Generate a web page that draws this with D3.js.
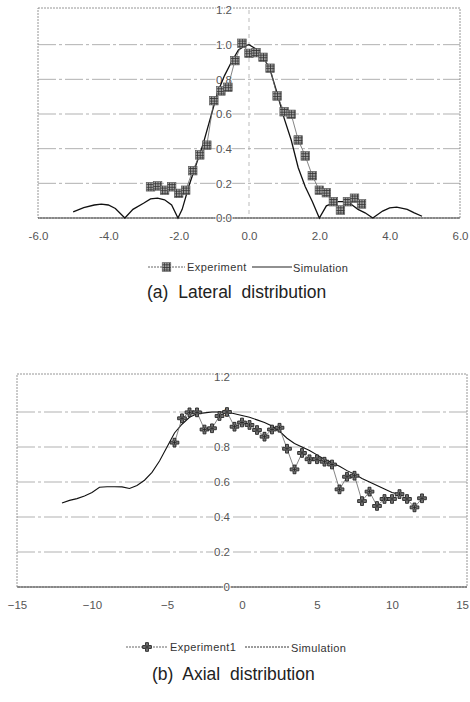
<!DOCTYPE html>
<html>
<head>
<meta charset="utf-8">
<script src="https://cdn.jsdelivr.net/npm/d3@7/dist/d3.min.js"></script>
<style>
  html, body { margin: 0; padding: 0; background: #fff; }
  svg { display: block; font-family: "Liberation Sans", Arial, sans-serif; }
</style>
</head>
<body>
<svg id="chart" width="470" height="702"></svg>
<script>
// ---- (a) Lateral distribution ----
const lateralTicksX = [-6, -4, -2, 0, 2, 4, 6];
const lateralTickLabelsX = ["-6.0", "-4.0", "-2.0", "0.0", "2.0", "4.0", "6.0"];
const lateralTicksY = [0, 0.2, 0.4, 0.6, 0.8, 1.0, 1.2];
const lateralTickLabelsY = ["0.0", "0.2", "0.4", "0.6", "0.8", "1.0", "1.2"];

const lateralExpX = [-2.8, -2.6, -2.4, -2.2, -2.0, -1.8, -1.6, -1.4, -1.2, -1.0, -0.8, -0.6, -0.4, -0.2,
  0.0, 0.2, 0.4, 0.6, 0.8, 1.0, 1.2, 1.4, 1.6, 1.8, 2.0, 2.2, 2.4, 2.6, 2.8, 3.0, 3.2];
const lateralExpY = [0.18, 0.185, 0.16, 0.18, 0.142, 0.16, 0.273, 0.364, 0.42, 0.677, 0.733, 0.754, 0.908, 1.008,
  0.95, 0.954, 0.927, 0.864, 0.704, 0.613, 0.598, 0.45, 0.358, 0.244, 0.16, 0.146, 0.094, 0.046, 0.094, 0.114, 0.081];

const lateralSimX = [-5.0, -4.7, -4.4, -4.2, -4.0, -3.8, -3.53, -3.3, -3.0, -2.8, -2.6, -2.4, -2.2, -2.02,
  -1.9, -1.7, -1.5, -1.3, -1.1, -0.9, -0.7, -0.5, -0.3, -0.1, 0.0, 0.2, 0.4, 0.6, 0.8, 1.0, 1.2, 1.4, 1.6, 1.8,
  2.0, 2.2, 2.5, 2.8, 3.1, 3.3, 3.52, 3.8, 4.0, 4.2, 4.5, 4.7, 4.92];
const lateralSimY = [0.035, 0.06, 0.075, 0.08, 0.075, 0.055, 0.0, 0.05, 0.085, 0.11, 0.115, 0.105, 0.075, 0.0,
  0.05, 0.19, 0.31, 0.43, 0.575, 0.72, 0.82, 0.9, 0.97, 0.995, 1.0, 0.975, 0.93, 0.855, 0.72, 0.575, 0.45, 0.29, 0.18, 0.095,
  0.0, 0.07, 0.095, 0.095, 0.05, 0.03, 0.0, 0.04, 0.058, 0.063, 0.05, 0.03, 0.01];

// ---- (b) Axial distribution ----
const axialTicksX = [-15, -10, -5, 0, 5, 10, 15];
const axialTickLabelsX = ["\u221215", "\u221210", "\u22125", "0", "5", "10", "15"];
const axialTicksY = [0, 0.2, 0.4, 0.6, 0.8, 1.0, 1.2];
const axialTickLabelsY = ["0", "0.2", "0.4", "0.6", "0.8", "1", "1.2"];

const axialExpX = [-4.5, -4.0, -3.5, -3.0, -2.5, -2.0, -1.5, -1.0, -0.5, 0.0, 0.5, 1.0, 1.5, 2.0, 2.5, 3.0, 3.5,
  4.0, 4.5, 5.0, 5.5, 6.0, 6.5, 7.0, 7.5, 8.0, 8.5, 9.0, 9.5, 10.0, 10.5, 11.0, 11.5, 12.0];
const axialExpY = [0.825, 0.964, 0.998, 0.998, 0.90, 0.907, 0.977, 1.0, 0.916, 0.94, 0.926, 0.897, 0.859, 0.90, 0.91,
  0.79, 0.672, 0.766, 0.73, 0.73, 0.716, 0.70, 0.558, 0.63, 0.636, 0.491, 0.545, 0.463, 0.503, 0.503, 0.531, 0.503, 0.455, 0.507];

const axialSimX = [-12, -11.5, -11, -10.5, -10, -9.5, -9, -8.5, -8, -7.5, -7, -6.5, -6, -5.5, -5, -4.5, -4, -3.5,
  -3, -2.5, -2, -1.5, -1, -0.5, 0, 0.5, 1, 1.5, 2, 2.5, 3, 3.5, 4, 4.5, 5, 5.5, 6, 6.5, 7, 7.5, 8, 8.5, 9, 9.5, 10, 10.5];
const axialSimY = [0.48, 0.495, 0.505, 0.52, 0.54, 0.57, 0.573, 0.573, 0.572, 0.563, 0.58, 0.61, 0.655, 0.72, 0.8, 0.88,
  0.93, 0.97, 0.99, 0.995, 1.0, 1.0, 1.0, 0.99, 0.98, 0.97, 0.955, 0.94, 0.92, 0.89, 0.85, 0.82, 0.80, 0.78, 0.755, 0.73,
  0.71, 0.69, 0.665, 0.645, 0.62, 0.6, 0.58, 0.56, 0.54, 0.53];

const svg = d3.select("#chart");
const defs = svg.append("defs");

// cross-hatched fill for the square markers
const pat = defs.append("pattern").attr("id", "hatch")
  .attr("patternUnits", "userSpaceOnUse").attr("width", 2.6).attr("height", 2.6);
pat.append("rect").attr("width", 2.6).attr("height", 2.6).attr("fill", "#a0a0a0");
pat.append("path").attr("d", "M0,0.4H2.6M0.4,0V2.6").attr("stroke", "#333").attr("stroke-width", 0.8);

function panel(cfg) {
  const x = d3.scaleLinear().domain(cfg.xDomain).range(cfg.xRange);
  const y = d3.scaleLinear().domain([0, 1.2]).range(cfg.yRange);
  const g = svg.append("g");

  // gridlines
  g.selectAll("line.grid").data(cfg.ticksY.filter(v => v > 0 && v < 1.2)).join("line")
    .attr("x1", x.range()[0]).attr("x2", x.range()[1])
    .attr("y1", d => y(d)).attr("y2", d => y(d))
    .attr("stroke", "#a8a8a8").attr("stroke-width", 0.9)
    .attr("stroke-dasharray", "18,3,3,3");

  // plot frame
  g.append("rect")
    .attr("x", x.range()[0]).attr("y", y(1.2) - cfg.topPad)
    .attr("width", x.range()[1] - x.range()[0]).attr("height", y(0) - y(1.2) + cfg.topPad)
    .attr("fill", "none").attr("stroke", "#8a8a8a").attr("stroke-width", 0.9)
    .attr("stroke-dasharray", "2,1");
  g.append("line")
    .attr("x1", x.range()[0]).attr("x2", x.range()[1])
    .attr("y1", y(0)).attr("y2", y(0))
    .attr("stroke", "#444").attr("stroke-width", 1);

  if (cfg.showYAxisLine) {
    g.append("line")
      .attr("x1", x(0)).attr("x2", x(0)).attr("y1", y(1.2)).attr("y2", y(0))
      .attr("stroke", "#aaa").attr("stroke-width", 0.8).attr("stroke-dasharray", "4,4");
  }

  // y tick labels, placed next to the zero position
  const yAxis = d3.axisLeft(y).tickValues(cfg.ticksY)
    .tickFormat((d, i) => cfg.labelsY[i]).tickSize(0).tickPadding(cfg.yLabelPad);
  const ya = g.append("g").attr("transform", `translate(${x(0)},0)`).call(yAxis);
  ya.select(".domain").remove();
  ya.selectAll("text").attr("fill", "#555").attr("font-size", 11.5)
    .style("paint-order", "stroke").attr("stroke", "#fff").attr("stroke-width", 2);

  // x tick labels below the frame; the last one is kept inside the page edge
  const xAxis = d3.axisBottom(x).tickValues(cfg.ticksX)
    .tickFormat((d, i) => cfg.labelsX[i]).tickSize(0).tickPadding(cfg.xLabelPad);
  const xa = g.append("g").attr("transform", `translate(0,${y(0)})`).call(xAxis);
  xa.select(".domain").remove();
  xa.selectAll("text").attr("fill", "#555").attr("font-size", 11.5);
  xa.selectAll("text").each(function () {
    const t = d3.select(this);
    const box = this.getBBox();
    const tx = +d3.select(this.parentNode).attr("transform").match(/translate\(([-\d.]+)/)[1];
    const overflow = tx + box.x + box.width - 469;
    if (overflow > 0) t.attr("x", -overflow);
  });

  // simulation curve
  const simPts = cfg.simX.map((v, i) => [v, cfg.simY[i]]);
  g.append("path").datum(simPts)
    .attr("d", d3.line().x(d => x(d[0])).y(d => y(d[1])))
    .attr("fill", "none").attr("stroke", "#111").attr("stroke-width", cfg.simWidth);

  // experiment series
  const expPts = cfg.expX.map((v, i) => [v, cfg.expY[i]]);
  g.append("path").datum(expPts)
    .attr("d", d3.line().x(d => x(d[0])).y(d => y(d[1])))
    .attr("fill", "none").attr("stroke", "#666").attr("stroke-width", 0.8);
  g.selectAll("g.mk").data(expPts).join("g")
    .attr("transform", d => `translate(${x(d[0])},${y(d[1])})`)
    .each(function () { cfg.marker(d3.select(this)); });

  // legend
  const L = cfg.legend;
  const lg = g.append("g").attr("font-size", 11).attr("fill", "#333").attr("letter-spacing", 0.4);
  lg.append("line").attr("x1", L.x1).attr("x2", L.x2).attr("y1", L.y).attr("y2", L.y)
    .attr("stroke", "#555").attr("stroke-width", 0.9).attr("stroke-dasharray", "2,1");
  cfg.marker(lg.append("g").attr("transform", `translate(${(L.x1 + L.x2) / 2},${L.y})`));
  lg.append("text").attr("x", L.x2 + 2).attr("y", L.y).attr("dy", "0.35em").text(L.exp);
  lg.append("line").attr("x1", L.s1).attr("x2", L.s2).attr("y1", L.y).attr("y2", L.y)
    .attr("stroke", "#222").attr("stroke-width", L.simW).attr("stroke-dasharray", L.simDash);
  lg.append("text").attr("x", L.s2 + 1).attr("y", L.y + 1).attr("dy", "0.35em").text("Simulation");

  // caption
  svg.append("text").attr("x", cfg.caption.x).attr("y", cfg.caption.y)
    .attr("font-size", 17.5).attr("fill", "#222").attr("word-spacing", 5)
    .attr("dy", "0.35em").text(cfg.caption.text);
}

function squareMarker(sel) {
  sel.append("rect").attr("x", -4.3).attr("y", -4.3).attr("width", 8.6).attr("height", 8.6)
    .attr("fill", "url(#hatch)").attr("stroke", "#555").attr("stroke-width", 0.6);
}
function crossMarker(sel) {
  sel.append("path").attr("d", d3.symbol(d3.symbolCross, 42)())
    .attr("fill", "#777").attr("stroke", "#222").attr("stroke-width", 0.9);
  sel.append("path").attr("d", "M-2,0H2M0,-2V2")
    .attr("stroke", "#222").attr("stroke-width", 0.8);
}

panel({
  xDomain: [-6, 6], xRange: [38, 460], yRange: [218, 10], topPad: 2,
  ticksX: lateralTicksX, labelsX: lateralTickLabelsX,
  ticksY: lateralTicksY, labelsY: lateralTickLabelsY,
  yLabelPad: 17, xLabelPad: 14, showYAxisLine: true,
  simX: lateralSimX, simY: lateralSimY, simWidth: 1.3,
  expX: lateralExpX, expY: lateralExpY, marker: squareMarker,
  legend: { y: 267, x1: 148, x2: 185, exp: "Experiment", s1: 252, s2: 292, simW: 1.2, simDash: null },
  caption: { x: 147, y: 292, text: "(a) Lateral distribution" }
});

panel({
  xDomain: [-15, 15], xRange: [17, 467], yRange: [587, 377], topPad: 3,
  ticksX: axialTicksX, labelsX: axialTickLabelsX,
  ticksY: axialTicksY, labelsY: axialTickLabelsY,
  yLabelPad: 12, xLabelPad: 14, showYAxisLine: false,
  simX: axialSimX, simY: axialSimY, simWidth: 1.1,
  expX: axialExpX, expY: axialExpY, marker: crossMarker,
  legend: { y: 647, x1: 126, x2: 168, exp: "Experiment1", s1: 245, s2: 290, simW: 0.9, simDash: "2,1" },
  caption: { x: 152, y: 674, text: "(b) Axial distribution" }
});
</script>
</body>
</html>
